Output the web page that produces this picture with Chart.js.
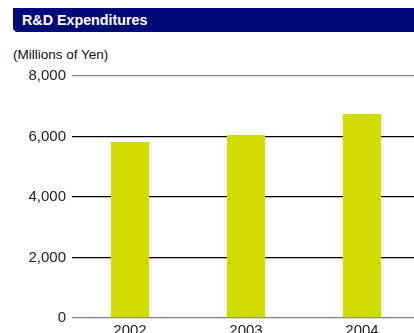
<!DOCTYPE html>
<html lang="en">
<head>
<meta charset="UTF-8">
<title>R&amp;D Expenditures</title>
<script src="https://cdn.jsdelivr.net/npm/chart.js"></script>
<style>
  html, body { margin: 0; padding: 0; background: #fff; overflow: hidden; width: 414px; height: 333px; }
  body { position: relative; font-family: "Liberation Sans", Arial, sans-serif; }
  .band {
    position: absolute; left: 13px; top: 8px; width: 401px; height: 24px;
    background: #000a78; color: #fff; font-weight: bold; font-size: 14.3px;
    line-height: 24px; padding-left: 9px; box-sizing: border-box;
    clip-path: polygon(0 0, 100% 0, 100% 100%, 3px 100%, 0 calc(100% - 3px));
  }
  .unit { position: absolute; left: 13px; top: 47px; font-size: 13.5px; color: #111; }
  .wrap { position: absolute; left: 0; top: 61px; width: 420px; height: 290px; }
</style>
</head>
<body>
<div class="band">R&amp;D Expenditures</div>
<div class="unit">(Millions of Yen)</div>
<div class="wrap"><canvas id="rd"></canvas></div>

<script>
  const years = ['2002', '2003', '2004'];
  const spending = [5820, 6050, 6740];
  const yTicks = [0, 2000, 4000, 6000, 8000];

  const ctx = document.getElementById('rd').getContext('2d');
  new Chart(ctx, {
    type: 'bar',
    data: {
      labels: years,
      datasets: [{
        data: spending,
        backgroundColor: '#d0dc00',
        barPercentage: 0.33,
        categoryPercentage: 1
      }]
    },
    options: {
      responsive: true,
      maintainAspectRatio: false,
      animation: false,
      layout: { padding: { top: 15, left: 0, right: 0, bottom: 0 } },
      plugins: { legend: { display: false }, tooltip: { enabled: false } },
      scales: {
        x: {
          grid: { display: false },
          border: { display: false },
          ticks: { color: '#222', font: { size: 15, family: 'Liberation Sans' }, padding: -4 },
          afterFit: s => { s.height = 33; }
        },
        y: {
          min: 0,
          max: 8000,
          afterBuildTicks: s => { s.ticks = yTicks.map(v => ({ value: v })); },
          afterFit: s => { s.width = 72; },
          border: { display: false },
          grid: {
            drawTicks: false,
            lineWidth: 1.3,
            color: c => (c.tick && (c.tick.value === 0 || c.tick.value === 8000)) ? '#808080' : '#000'
          },
          ticks: {
            color: '#222',
            padding: 6,
            font: { size: 15, family: 'Liberation Sans' },
            callback: v => v.toLocaleString('en-US')
          }
        }
      }
    }
  });
</script>
</body>
</html>
